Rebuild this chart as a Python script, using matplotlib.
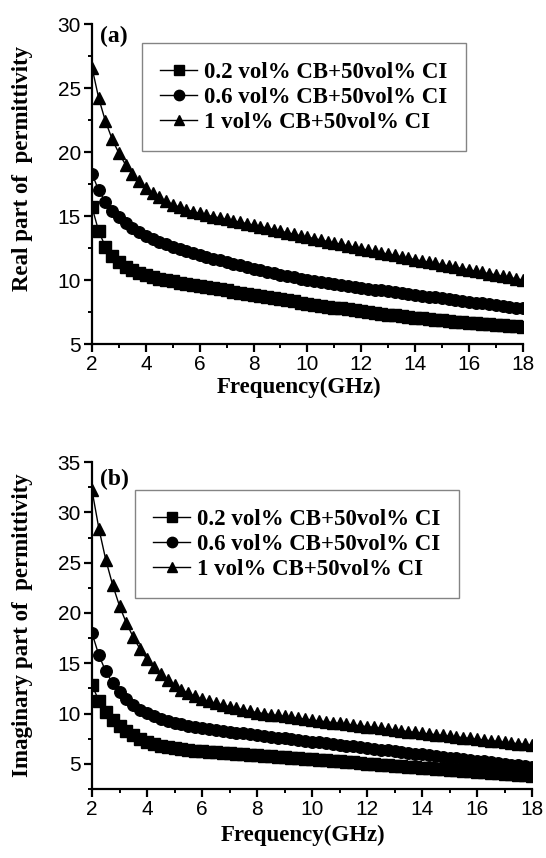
import numpy as np
import matplotlib
matplotlib.use("Agg")
import matplotlib.pyplot as plt
from matplotlib.ticker import MultipleLocator

# Frequency grid (GHz)
freq = np.arange(2.0, 18.001, 0.25)

labels = ["0.2 vol% CB+50vol% CI", "0.6 vol% CB+50vol% CI", "1 vol% CB+50vol% CI"]
markers = ["s", "o", "^"]

# (a) Real part of permittivity
real_02 = [15.7, 13.8, 12.6, 11.9, 11.4, 11.05, 10.8, 10.58, 10.4, 10.25, 10.12, 10.0, 9.9, 9.8, 9.7, 9.61, 9.52,
           9.44, 9.35, 9.27, 9.19, 9.1, 9.02, 8.93, 8.85,
           8.76, 8.68, 8.59, 8.5, 8.41, 8.33, 8.24, 8.15,
           8.08, 8.0, 7.93, 7.85, 7.78, 7.7, 7.63, 7.55,
           7.49, 7.43, 7.36, 7.3, 7.24, 7.18, 7.11, 7.05,
           7.0, 6.95, 6.9, 6.85, 6.8, 6.75, 6.7, 6.65,
           6.61, 6.58, 6.54, 6.5, 6.46, 6.43, 6.39, 6.35]
real_06 = [18.3, 17.0, 16.1, 15.4, 14.9, 14.45, 14.08, 13.75, 13.45, 13.2, 12.98, 12.78, 12.6, 12.43, 12.27, 12.11, 11.96,
           11.82, 11.68, 11.55, 11.42, 11.29, 11.16, 11.03, 10.9,
           10.78, 10.66, 10.54, 10.42, 10.31, 10.2, 10.09, 9.98,
           9.91, 9.83, 9.76, 9.69, 9.62, 9.55, 9.47, 9.4,
           9.33, 9.26, 9.19, 9.12, 9.05, 8.99, 8.92, 8.85,
           8.78, 8.71, 8.64, 8.57, 8.5, 8.44, 8.37, 8.3,
           8.24, 8.17, 8.1, 8.04, 7.97, 7.91, 7.84, 7.78]
real_1 = [26.6, 24.2, 22.4, 21.0, 19.9, 19.0, 18.3, 17.7, 17.2, 16.8, 16.45, 16.15, 15.9, 15.7, 15.5, 15.35, 15.2,
          15.08, 14.96, 14.85, 14.74, 14.63, 14.52, 14.41, 14.3,
          14.18, 14.06, 13.94, 13.82, 13.7, 13.58, 13.46, 13.35,
          13.24, 13.13, 13.01, 12.9, 12.79, 12.68, 12.56, 12.45,
          12.34, 12.24, 12.13, 12.02, 11.92, 11.81, 11.7, 11.6,
          11.5, 11.4, 11.3, 11.2, 11.1, 11.0, 10.9, 10.8,
          10.7, 10.6, 10.5, 10.4, 10.3, 10.2, 10.1, 10.0]

# (b) Imaginary part of permittivity
imag_02 = [12.8, 11.3, 10.2, 9.4, 8.75, 8.25, 7.85, 7.5, 7.2, 6.98, 6.8, 6.66, 6.55, 6.46, 6.38, 6.31, 6.25,
           6.2, 6.15, 6.11, 6.06, 6.02, 5.97, 5.93, 5.88,
           5.83, 5.78, 5.72, 5.67, 5.61, 5.56, 5.5, 5.45,
           5.4, 5.35, 5.29, 5.24, 5.19, 5.14, 5.08, 5.03,
           4.98, 4.92, 4.87, 4.81, 4.76, 4.71, 4.65, 4.6,
           4.55, 4.5, 4.45, 4.4, 4.35, 4.3, 4.25, 4.2,
           4.15, 4.1, 4.05, 4.0, 3.95, 3.9, 3.85, 3.8]
imag_06 = [18.0, 15.8, 14.2, 13.0, 12.1, 11.4, 10.85, 10.4, 10.05, 9.75, 9.5, 9.28, 9.1, 8.95, 8.81, 8.68, 8.56,
           8.47, 8.38, 8.29, 8.2, 8.11, 8.02, 7.94, 7.85,
           7.77, 7.69, 7.61, 7.53, 7.46, 7.38, 7.3, 7.22,
           7.14, 7.06, 6.98, 6.9, 6.82, 6.74, 6.66, 6.58,
           6.5, 6.42, 6.34, 6.26, 6.18, 6.1, 6.02, 5.94,
           5.86, 5.78, 5.71, 5.63, 5.55, 5.47, 5.4, 5.32,
           5.24, 5.16, 5.09, 5.01, 4.93, 4.86, 4.78, 4.7]
imag_1 = [32.2, 28.4, 25.3, 22.8, 20.7, 19.0, 17.6, 16.4, 15.4, 14.6, 13.9, 13.3, 12.8, 12.38, 12.02, 11.7, 11.42,
          11.22, 11.03, 10.85, 10.68, 10.52, 10.38, 10.24, 10.1,
          10.0, 9.9, 9.81, 9.72, 9.63, 9.54, 9.44, 9.35,
          9.27, 9.19, 9.11, 9.03, 8.95, 8.87, 8.78, 8.7,
          8.62, 8.54, 8.46, 8.38, 8.3, 8.21, 8.13, 8.05,
          7.98, 7.9, 7.83, 7.75, 7.68, 7.6, 7.53, 7.45,
          7.38, 7.3, 7.23, 7.15, 7.08, 7.0, 6.93, 6.85]

serif_bold = dict(family="Liberation Serif", weight="bold")

fig = plt.figure(figsize=(5.46, 8.58), dpi=100)
ax1 = fig.add_axes([0.1685, 0.599, 0.789, 0.373])
ax2 = fig.add_axes([0.1685, 0.0804, 0.806, 0.381])


def style(ax, ylim, ylabel, tag, tag_y, leg_anchor, ylab_xy, xlab_y, series):
    for vals, m, lab in zip(series, markers, labels):
        ax.plot(freq, vals, color="black", lw=1.0, marker=m, markersize=8.3,
                markerfacecolor="black", markeredgecolor="black", label=lab)
    ax.set_xlim(2, 18)
    ax.set_ylim(*ylim)
    ax.spines["top"].set_visible(False)
    ax.spines["right"].set_visible(False)
    for s in ("left", "bottom"):
        ax.spines[s].set_linewidth(1.6)
    ax.xaxis.set_major_locator(MultipleLocator(2))
    ax.xaxis.set_minor_locator(MultipleLocator(1))
    ax.yaxis.set_major_locator(MultipleLocator(5))
    ax.yaxis.set_minor_locator(MultipleLocator(2.5))
    ax.tick_params(which="major", direction="out", length=5.5, width=1.6,
                   labelsize=15, pad=2.5)
    ax.tick_params(which="minor", direction="out", length=3.2, width=1.4)
    for t in ax.get_xticklabels() + ax.get_yticklabels():
        t.set_family("Liberation Sans")
    ax.set_xlabel("Frequency(GHz)", fontsize=16.5, **serif_bold)
    ax.set_ylabel(ylabel, fontsize=16.5, **serif_bold)
    ax.xaxis.set_label_coords(0.48, xlab_y)
    ax.yaxis.set_label_coords(*ylab_xy)
    ax.text(0.019, tag_y, tag, transform=ax.transAxes,
            fontsize=17, va="top", ha="left", **serif_bold)
    leg = ax.legend(loc="upper left", bbox_to_anchor=leg_anchor,
                    prop=dict(family="Liberation Serif", weight="bold", size=16.5),
                    frameon=True, fancybox=False, edgecolor="#666666",
                    handlelength=1.6, handletextpad=0.3, labelspacing=0.18,
                    borderpad=0.8, borderaxespad=0, markerscale=0.9)
    leg.get_frame().set_linewidth(1.0)


style(ax1, (5, 30), "Real part of  permittivity", "(a)", 0.995, (0.116, 0.94),
      (-0.137, 0.55), -0.102, [real_02, real_06, real_1])
style(ax2, (2.5, 35), "Imaginary part of  permittivity", "(b)", 0.98, (0.098, 0.914),
      (-0.134, 0.5), -0.110, [imag_02, imag_06, imag_1])

fig.savefig("out.png", dpi=100)
